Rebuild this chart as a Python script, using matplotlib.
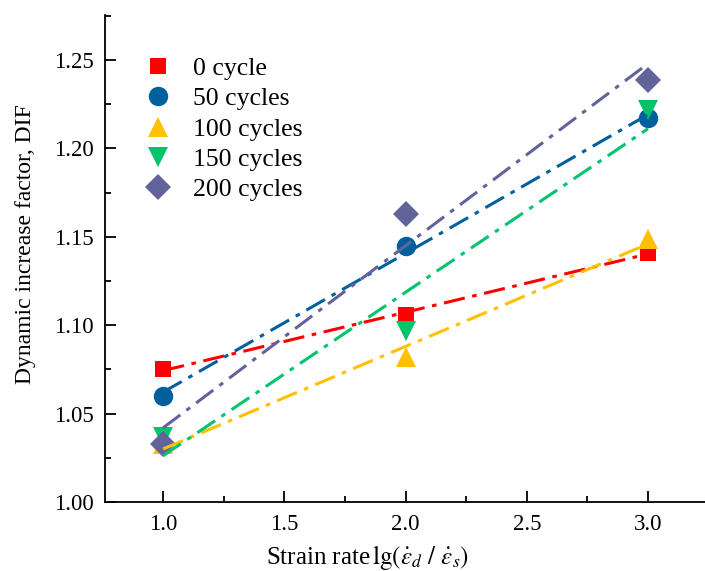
import numpy as np
import matplotlib
matplotlib.use("Agg")
import matplotlib.pyplot as plt
from matplotlib.ticker import MultipleLocator

plt.rcParams["font.family"] = ["Liberation Serif", "DejaVu Serif"]
plt.rcParams["mathtext.fontset"] = "stix"

strain_rate = [1.0, 2.0, 3.0]
labels = ["0 cycle", "50 cycles", "100 cycles", "150 cycles", "200 cycles"]
dif_0 = [1.075, 1.106, 1.141]
dif_50 = [1.060, 1.145, 1.217]
dif_100 = [1.033, 1.082, 1.149]
dif_150 = [1.037, 1.097, 1.222]
dif_200 = [1.033, 1.163, 1.239]
series = [dif_0, dif_50, dif_100, dif_150, dif_200]

COLORS = ["#FF0000", "#00609E", "#FFC000", "#00C46C", "#63639B"]
MARKERS = ["s", "o", "^", "v", "D"]
MSIZE = [12, 14, 14, 14, 13]

fig = plt.figure(figsize=(7.05, 5.71), dpi=100)
ax = fig.add_axes([105 / 705, 69 / 571, 600 / 705, 487 / 571])

x = np.array(strain_rate)
for ys, lab, c, m, ms in zip(series, labels, COLORS, MARKERS, MSIZE):
    ax.plot(x, ys, linestyle="none", marker=m, markersize=ms, color=c,
            markeredgewidth=0, label=lab, zorder=3)
# linear fits drawn on top of the markers
for ys, c in zip(series, COLORS):
    k, b = np.polyfit(x, ys, 1)
    ax.plot(x[[0, -1]], k * x[[0, -1]] + b, color=c, lw=2.2,
            dashes=(7, 2.5, 1.5, 2.5), zorder=4)

ax.set_xlim(0.76, 3.235)
ax.set_ylim(1.0, 1.2755)
ax.xaxis.set_major_locator(MultipleLocator(0.5))
ax.xaxis.set_minor_locator(MultipleLocator(0.25))
ax.yaxis.set_major_locator(MultipleLocator(0.05))
ax.yaxis.set_minor_locator(MultipleLocator(0.025))
ax.tick_params(which="both", direction="in", labelsize=16.5, width=1.3)
ax.tick_params(which="major", length=8)
ax.tick_params(which="minor", length=4.5)
ax.tick_params(axis="y", pad=8)
ax.tick_params(axis="x", pad=9)
ax.set_yticks([1.00, 1.05, 1.10, 1.15, 1.20, 1.25])
ax.set_yticklabels([f"{v:.2f}" for v in [1.00, 1.05, 1.10, 1.15, 1.20, 1.25]])
for s in ["top", "right"]:
    ax.spines[s].set_visible(False)
for s in ["left", "bottom"]:
    ax.spines[s].set_linewidth(1.3)

ax.set_ylabel("Dynamic increase factor, DIF", fontsize=17)
ax.yaxis.set_label_coords(-0.115, 0.53)
ax.set_xlabel(r"Strain rate$\,\mathrm{lg}(\dot{\varepsilon}_d\ /\ \dot{\varepsilon}_s)$",
              fontsize=18)
ax.xaxis.set_label_coords(0.438, -0.084)

ax.legend(loc="upper left", bbox_to_anchor=(0.02, 0.945), frameon=False,
          fontsize=18.5, handletextpad=0.35, labelspacing=0.28, borderaxespad=0.2)

fig.savefig("out.png", dpi=100)
